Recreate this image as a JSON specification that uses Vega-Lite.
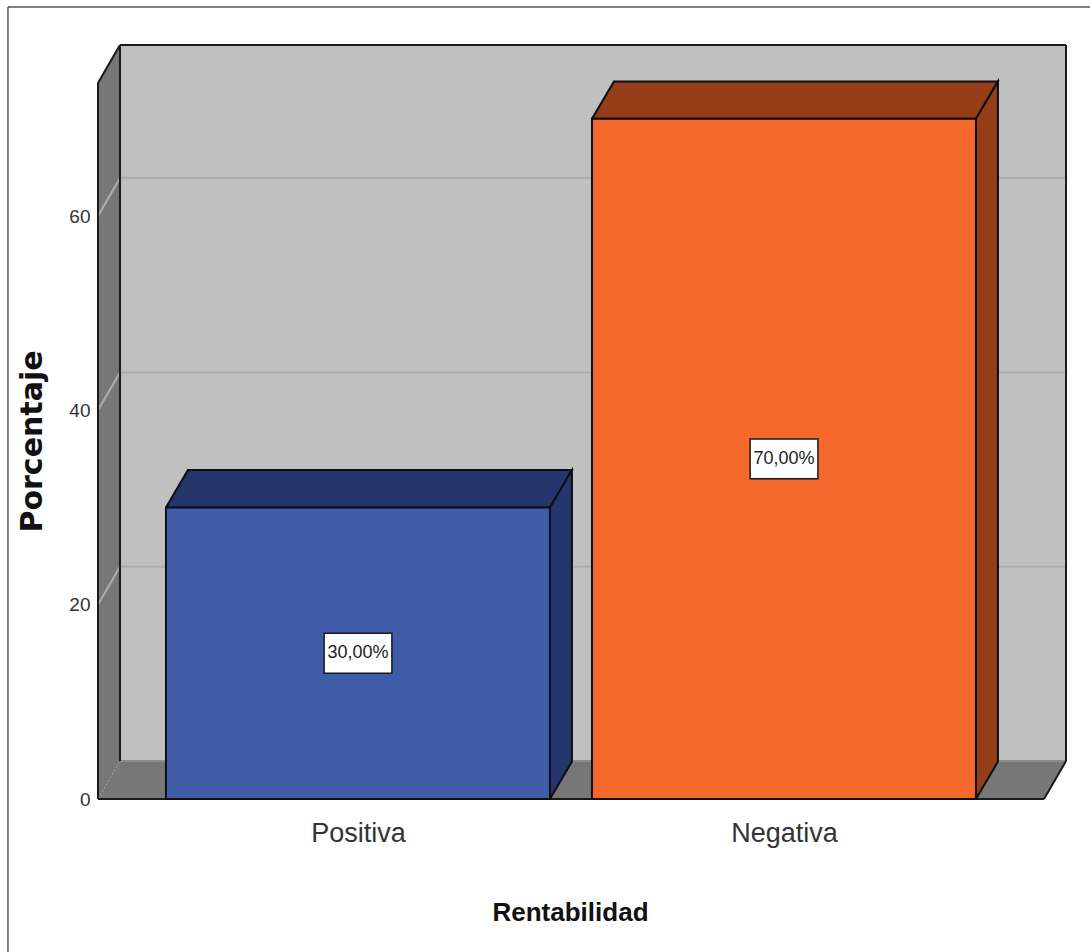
{
  "$schema": "https://vega.github.io/schema/vega-lite/v6.json",
  "width": 968,
  "height": 754,
  "autosize": {"type": "none"},
  "padding": {"left": 98, "top": 45, "right": 24, "bottom": 153},
  "background": "#ffffff",
  "config": {"view": {"stroke": null}},
  "datasets": {
    "barras": [
      {"Rentabilidad": "Positiva", "Porcentaje": 30, "orden": 0},
      {"Rentabilidad": "Negativa", "Porcentaje": 70, "orden": 1}
    ],
    "fondo": [{"px": 2.27, "py": 3.9, "px2": 100, "py2": 77.6}],
    "planos": [
      {"plano": "pared", "i": 0, "px": 0, "py": 0},
      {"plano": "pared", "i": 1, "px": 2.27, "py": 3.9},
      {"plano": "pared", "i": 2, "px": 2.27, "py": 77.6},
      {"plano": "pared", "i": 3, "px": 0, "py": 73.7},
      {"plano": "pared", "i": 4, "px": 0, "py": 0},
      {"plano": "suelo", "i": 0, "px": 0, "py": 0},
      {"plano": "suelo", "i": 1, "px": 97.73, "py": 0},
      {"plano": "suelo", "i": 2, "px": 100, "py": 3.9},
      {"plano": "suelo", "i": 3, "px": 2.27, "py": 3.9},
      {"plano": "suelo", "i": 4, "px": 0, "py": 0}
    ],
    "rejilla": [
      {"px": 2.27, "py": 23.9, "px2": 100, "py2": 23.9},
      {"px": 2.27, "py": 43.9, "px2": 100, "py2": 43.9},
      {"px": 2.27, "py": 63.9, "px2": 100, "py2": 63.9},
      {"px": 0, "py": 20, "px2": 2.27, "py2": 23.9},
      {"px": 0, "py": 40, "px2": 2.27, "py2": 43.9},
      {"px": 0, "py": 60, "px2": 2.27, "py2": 63.9}
    ],
    "aristas": [
      {"px": 2.27, "py": 3.9, "px2": 2.27, "py2": 77.6},
      {"px": 2.27, "py": 77.6, "px2": 100, "py2": 77.6},
      {"px": 100, "py": 3.9, "px2": 100, "py2": 77.6},
      {"px": 0, "py": 0, "px2": 0, "py2": 73.7},
      {"px": 0, "py": 73.7, "px2": 2.27, "py2": 77.6},
      {"px": 97.73, "py": 0, "px2": 100, "py2": 3.9},
      {"px": 0, "py": 0, "px2": 97.73, "py2": 0}
    ],
    "marco": [
      {"px": -9.3, "py": 81.5, "px2": 103, "py2": 81.5},
      {"px": -9.3, "py": -17, "px2": -9.3, "py2": 81.5}
    ]
  },
  "encoding": {
    "x": {
      "field": "px",
      "type": "quantitative",
      "scale": {"domain": [0, 100], "nice": false, "zero": false},
      "axis": {
        "values": [26.86, 70.87],
        "labelExpr": "datum.value < 50 ? 'Positiva' : 'Negativa'",
        "domain": false,
        "ticks": false,
        "grid": false,
        "labelFont": "Liberation Sans",
        "labelFontSize": 27,
        "labelColor": "#333333",
        "labelPadding": 21,
        "labelBaseline": "top",
        "title": "Rentabilidad",
        "titleFont": "Liberation Sans",
        "titleFontWeight": "bold",
        "titleFontSize": 26,
        "titleColor": "#111111",
        "titleX": 472,
        "titleY": 121,
        "titleBaseline": "alphabetic"
      }
    },
    "y": {
      "field": "py",
      "type": "quantitative",
      "scale": {"domain": [0, 77.6], "nice": false, "zero": false},
      "axis": {
        "values": [0, 20, 40, 60],
        "domain": false,
        "ticks": false,
        "grid": false,
        "labelFont": "Liberation Sans",
        "labelFontSize": 19,
        "labelColor": "#333333",
        "labelPadding": 8,
        "title": "Porcentaje",
        "titleFont": "DejaVu Sans",
        "titleFontWeight": "bold",
        "titleFontSize": 30,
        "titleColor": "#111111",
        "titleX": -57,
        "titleY": 396,
        "titleBaseline": "alphabetic"
      }
    }
  },
  "layer": [
    {
      "data": {"name": "marco"},
      "mark": {"type": "rule", "stroke": "#555555", "strokeWidth": 1.5},
      "encoding": {
        "x2": {"field": "px2"},
        "y2": {"field": "py2"}
      }
    },
    {
      "data": {"name": "fondo"},
      "mark": {"type": "rect", "fill": "#c0c0c0"},
      "encoding": {
        "x2": {"field": "px2"},
        "y2": {"field": "py2"}
      }
    },
    {
      "data": {"name": "planos"},
      "mark": {"type": "line", "fill": "#777777", "stroke": "#777777", "strokeWidth": 1},
      "encoding": {
        "detail": {"field": "plano"},
        "order": {"field": "i"}
      }
    },
    {
      "data": {"name": "rejilla"},
      "mark": {"type": "rule", "stroke": "#adadad", "strokeWidth": 2},
      "encoding": {
        "x2": {"field": "px2"},
        "y2": {"field": "py2"}
      }
    },
    {
      "data": {"values": [{"px": 0, "py": 0, "px2": 2.27, "py2": 3.9}]},
      "mark": {"type": "rule", "stroke": "#aaaaaa", "strokeWidth": 1, "strokeDash": [2, 2]},
      "encoding": {
        "x2": {"field": "px2"},
        "y2": {"field": "py2"}
      }
    },
    {
      "data": {"values": [{"px": 2.27, "py": 3.9, "px2": 100, "py2": 3.9}]},
      "mark": {"type": "rule", "stroke": "#8c8c8c", "strokeWidth": 2},
      "encoding": {
        "x2": {"field": "px2"},
        "y2": {"field": "py2"}
      }
    },
    {
      "data": {"name": "aristas"},
      "mark": {"type": "rule", "stroke": "#1a1a1a", "strokeWidth": 2},
      "encoding": {
        "x2": {"field": "px2"},
        "y2": {"field": "py2"}
      }
    },
    {
      "data": {"name": "barras"},
      "transform": [
        {"calculate": "7.02 + datum.orden * 44.01", "as": "izq"},
        {"calculate": "datum.izq + 39.67", "as": "der"},
        {"calculate": "datum.Rentabilidad + ' sombra'", "as": "cara"},
        {"calculate": "[datum.izq, datum.der, datum.der + 2.27, datum.izq + 2.27, datum.izq]", "as": "px"},
        {"calculate": "[datum.Porcentaje, datum.Porcentaje, datum.Porcentaje + 3.85, datum.Porcentaje + 3.85, datum.Porcentaje]", "as": "py"},
        {"calculate": "[0, 1, 2, 3, 4]", "as": "i"},
        {"flatten": ["px", "py", "i"]}
      ],
      "mark": {"type": "line", "stroke": "#0d0d14", "strokeWidth": 2, "strokeJoin": "miter"},
      "encoding": {
        "fill": {
          "field": "cara",
          "type": "nominal",
          "legend": null,
          "scale": {"domain": ["Positiva", "Negativa", "Positiva sombra", "Negativa sombra"], "range": ["#3e5ca8", "#f5682b", "#24366b", "#953d17"]}
        },
        "detail": {"field": "Rentabilidad"},
        "order": {"field": "i"}
      }
    },
    {
      "data": {"name": "barras"},
      "transform": [
        {"calculate": "7.02 + datum.orden * 44.01", "as": "izq"},
        {"calculate": "datum.izq + 39.67", "as": "der"},
        {"calculate": "datum.Rentabilidad + ' sombra'", "as": "cara"},
        {"calculate": "[datum.der, datum.der + 2.27, datum.der + 2.27, datum.der, datum.der]", "as": "px"},
        {"calculate": "[0, 3.85, datum.Porcentaje + 3.85, datum.Porcentaje, 0]", "as": "py"},
        {"calculate": "[0, 1, 2, 3, 4]", "as": "i"},
        {"flatten": ["px", "py", "i"]}
      ],
      "mark": {"type": "line", "stroke": "#0d0d14", "strokeWidth": 2, "strokeJoin": "miter"},
      "encoding": {
        "fill": {
          "field": "cara",
          "type": "nominal",
          "legend": null,
          "scale": {"domain": ["Positiva", "Negativa", "Positiva sombra", "Negativa sombra"], "range": ["#3e5ca8", "#f5682b", "#24366b", "#953d17"]}
        },
        "detail": {"field": "Rentabilidad"},
        "order": {"field": "i"}
      }
    },
    {
      "data": {"name": "barras"},
      "transform": [
        {"calculate": "7.02 + datum.orden * 44.01", "as": "px"},
        {"calculate": "datum.px + 39.67", "as": "px2"},
        {"calculate": "datum.Porcentaje", "as": "py"},
        {"calculate": "0", "as": "py2"},
        {"calculate": "datum.Rentabilidad", "as": "cara"}
      ],
      "mark": {"type": "rect", "stroke": "#0d0d14", "strokeWidth": 2},
      "encoding": {
        "x2": {"field": "px2"},
        "y2": {"field": "py2"},
        "fill": {
          "field": "cara",
          "type": "nominal",
          "legend": null,
          "scale": {"domain": ["Positiva", "Negativa", "Positiva sombra", "Negativa sombra"], "range": ["#3e5ca8", "#f5682b", "#24366b", "#953d17"]}
        }
      }
    },
    {
      "data": {"name": "barras"},
      "transform": [
        {"calculate": "26.86 + datum.orden * 44.01 - 3.5", "as": "px"},
        {"calculate": "datum.px + 7", "as": "px2"},
        {"calculate": "datum.Porcentaje / 2 - 2.05", "as": "py"},
        {"calculate": "datum.Porcentaje / 2 + 2.05", "as": "py2"}
      ],
      "mark": {"type": "rect", "fill": "#ffffff", "stroke": "#1a1a1a", "strokeWidth": 1.5},
      "encoding": {
        "x2": {"field": "px2"},
        "y2": {"field": "py2"}
      }
    },
    {
      "data": {"name": "barras"},
      "transform": [
        {"calculate": "26.86 + datum.orden * 44.01", "as": "px"},
        {"calculate": "datum.Porcentaje / 2", "as": "py"},
        {"calculate": "replace(format(datum.Porcentaje, '.2f'), '.', ',') + '%'", "as": "rotulo"}
      ],
      "mark": {"type": "text", "font": "Liberation Sans", "fontSize": 18, "color": "#222222", "align": "center", "baseline": "middle"},
      "encoding": {
        "text": {"field": "rotulo"}
      }
    }
  ]
}
